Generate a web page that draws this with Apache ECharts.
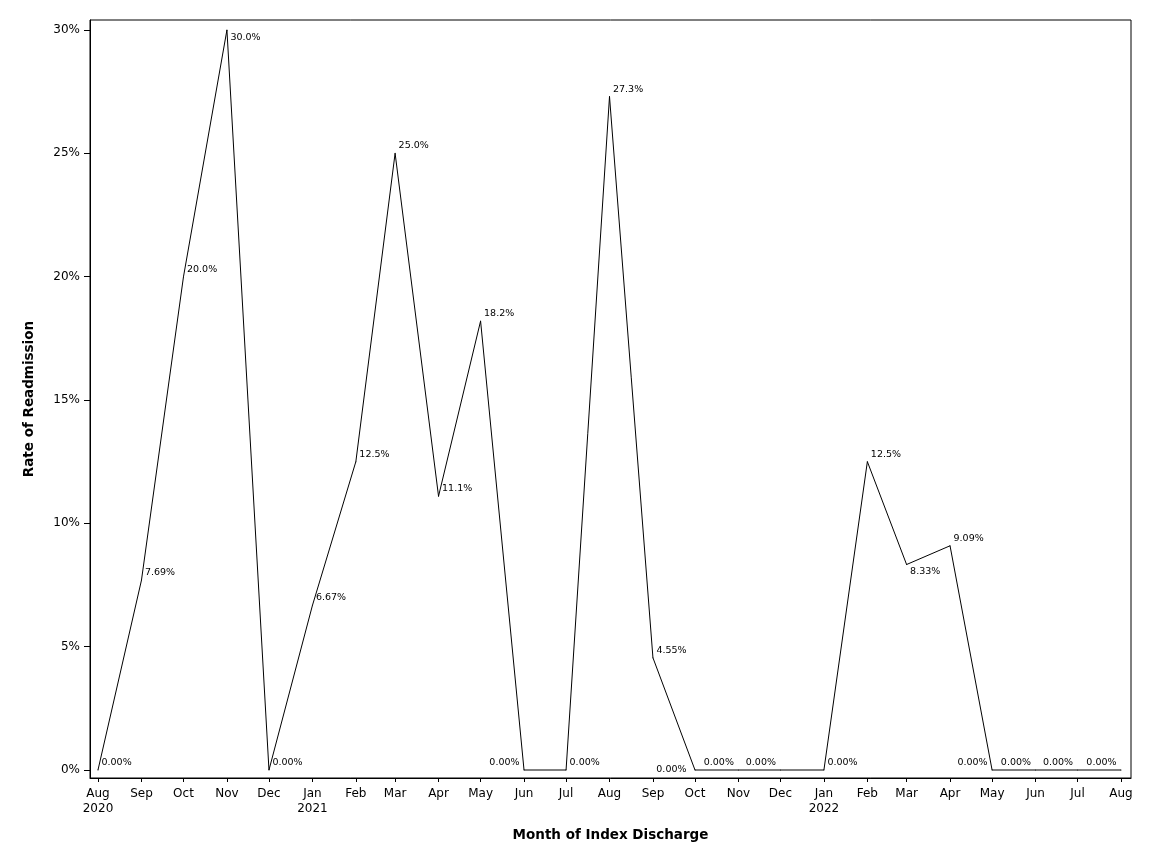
<!DOCTYPE html>
<html>
<head>
<meta charset="utf-8">
<script src="https://cdn.jsdelivr.net/npm/echarts@6/dist/echarts.min.js"></script>
<style>
html,body{margin:0;padding:0;background:#fff;}
#chart{width:1152px;height:864px;}
</style>
</head>
<body>
<div id="chart"></div>
<script>
// Months of index discharge (YYYY-MM)
var months = ["2020-08","2020-09","2020-10","2020-11","2020-12",
  "2021-01","2021-02","2021-03","2021-04","2021-05","2021-06","2021-07","2021-08","2021-09","2021-10","2021-11","2021-12",
  "2022-01","2022-02","2022-03","2022-04","2022-05","2022-06","2022-07","2022-08"];
// Rate of readmission (%)
var rates = [0, 7.69, 20.0, 30.0, 0,
  6.67, 12.5, 25.0, 11.1, 18.2, 0, 0, 27.3, 4.55, 0, 0, 0,
  0, 12.5, 8.33, 9.09, 0, 0, 0, 0];
// Axis tick labels
var yTicks = [0, 5, 10, 15, 20, 25, 30];
var monthNames = ["Jan","Feb","Mar","Apr","May","Jun","Jul","Aug","Sep","Oct","Nov","Dec"];

function ts(ym){ var p = ym.split('-'); return Date.UTC(+p[0], +p[1]-1, 1); }
var xTickValues = months.map(ts);

// label placement (style only), keyed by month
var placeAL = {"2021-06":1,"2021-11":1,"2021-12":1,"2022-05":1,"2022-06":1,"2022-07":1,"2022-08":1};
var placeBR = {"2020-11":1,"2022-03":1};
var placeBL = {"2021-10":1};

var seriesData = months.map(function(m, i){
  var lab;
  if (placeAL[m]) lab = {position:[-4, -7], align:'right', verticalAlign:'middle'};
  else if (placeBL[m]) lab = {position:[-8, 0], align:'right', verticalAlign:'middle'};
  else if (placeBR[m]) lab = {position:[4, 8], align:'left', verticalAlign:'middle'};
  else lab = {position:[4, -7], align:'left', verticalAlign:'middle'};
  return {value:[ts(m), rates[i]], label: lab};
});

var FONT = 'DejaVu Sans';
var chart = echarts.init(document.getElementById('chart'), null, {renderer:'canvas'});
chart.setOption({
  animation: false,
  backgroundColor: '#fff',
  grid: {left: 90, right: 21, top: 20, bottom: 86, show: true, borderColor: '#000', borderWidth: 1, backgroundColor: 'transparent'},
  xAxis: {
    type: 'value',
    min: Date.UTC(2020, 6, 26, 7),
    max: Date.UTC(2022, 7, 8, 3),
    name: 'Month of Index Discharge',
    nameLocation: 'middle',
    nameGap: 50,
    nameTextStyle: {fontFamily: FONT, fontWeight: 'bold', fontSize: 13.5, color: '#000', verticalAlign: 'top'},
    axisLine: {show: true, onZero: false, lineStyle: {color: '#000', width: 1}},
    axisTick: {show: true, length: 4, lineStyle: {color: '#000'}, customValues: xTickValues},
    splitLine: {show: false},
    axisLabel: {
      customValues: xTickValues,
      margin: 8,
      fontFamily: FONT, fontSize: 12, color: '#000', lineHeight: 15,
      hideOverlap: false,
      formatter: function(v){
        var d = new Date(v);
        var mo = d.getUTCMonth(), yr = d.getUTCFullYear();
        var s = monthNames[mo];
        if (mo === 0 || (mo === 7 && yr === 2020)) s += '\n' + yr;
        return s;
      }
    }
  },
  yAxis: {
    type: 'value',
    min: -0.324,
    max: 30.405,
    name: 'Rate of Readmission',
    nameLocation: 'middle',
    nameRotate: 90,
    nameGap: 54,
    nameTextStyle: {fontFamily: FONT, fontWeight: 'bold', fontSize: 13.5, color: '#000'},
    axisLine: {show: true, onZero: false, lineStyle: {color: '#000', width: 1}},
    axisTick: {show: true, length: 6, lineStyle: {color: '#000'}, customValues: yTicks},
    splitLine: {show: false},
    axisLabel: {
      customValues: yTicks,
      margin: 10,
      fontFamily: FONT, fontSize: 12, color: '#000',
      formatter: function(v){ return Math.round(v) + '%'; }
    }
  },
  series: [{
    type: 'line',
    data: seriesData,
    symbol: 'circle',
    symbolSize: 1,
    showSymbol: true,
    itemStyle: {color: '#000'},
    lineStyle: {color: '#000', width: 1},
    label: {
      show: true,
      fontFamily: FONT, fontSize: 9.5, color: '#000',
      formatter: function(p){ return p.value[1].toPrecision(3) + '%'; }
    },
    labelLayout: {hideOverlap: false}
  }]
});
</script>
</body>
</html>
